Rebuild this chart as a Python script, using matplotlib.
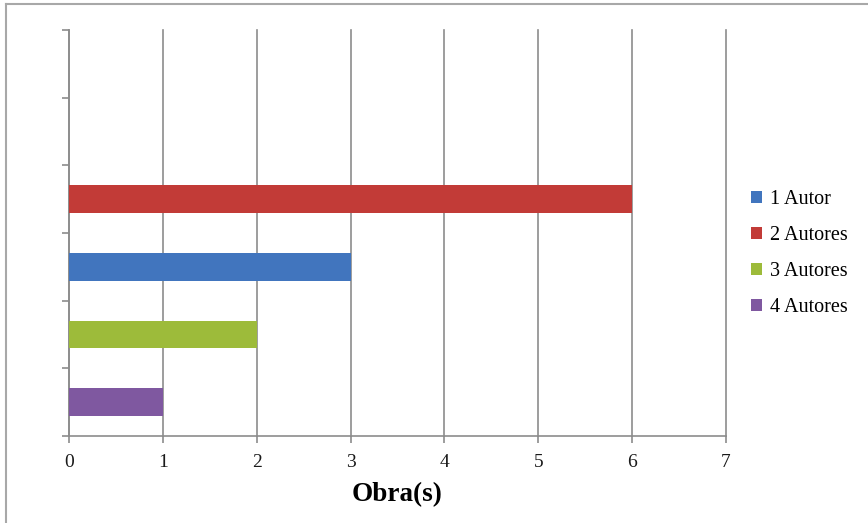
import matplotlib
matplotlib.use("Agg")
import matplotlib.pyplot as plt
from matplotlib.patches import Patch
from matplotlib.lines import Line2D

# Data
series = ["1 Autor", "2 Autores", "3 Autores", "4 Autores"]
values = [3, 6, 2, 1]
colors = ["#4175BE", "#C23B37", "#9DBB3A", "#7F58A0"]
# order of bars from bottom to top
stack_order = ["4 Autores", "3 Autores", "1 Autor", "2 Autores"]
n_slots = 6
x_ticks = [0, 1, 2, 3, 4, 5, 6, 7]
xlabel = "Obra(s)"

fig = plt.figure(figsize=(8.68, 5.23), dpi=100)
ax = fig.add_axes([69/868, 1-436/523, (726-69)/868, (436-30)/523])

grid_c = "#8C8C8C"
for s in stack_order:
    i = series.index(s)
    pos = stack_order.index(s) + 0.5
    ax.barh(pos, values[i], height=0.41, color=colors[i], zorder=3)

ax.set_xlim(0, 7)
ax.set_ylim(0, n_slots)
ax.set_xticks(x_ticks)
ax.set_xticklabels([str(t) for t in x_ticks], family="Liberation Serif", fontsize=14)
ax.set_yticks(range(n_slots + 1))
ax.set_yticklabels([])
ax.xaxis.grid(True, color=grid_c, linewidth=1.2, zorder=0)
for gl in ax.get_xgridlines():
    gl.set_clip_on(False)
ax.set_axisbelow(True)
for sp in ["top", "right"]:
    ax.spines[sp].set_visible(False)
for sp in ["left", "bottom"]:
    ax.spines[sp].set_color(grid_c)
    ax.spines[sp].set_linewidth(1.2)
ax.tick_params(axis="both", color=grid_c, width=1.2, length=5, direction="out")
ax.tick_params(axis="x", pad=8, labelcolor="#1a1a1a")
ax.set_xlabel(xlabel, family="Liberation Serif", fontweight="bold", fontsize=19.5, labelpad=8)

handles = [Patch(facecolor=colors[i], edgecolor="none") for i in range(len(series))]
leg = fig.legend(handles, series, loc="upper left", bbox_to_anchor=(751/868, 1-190/523),
                 frameon=False, prop={"family": "Liberation Serif", "size": 14.5},
                 handlelength=0.55, handleheight=0.55, handletextpad=0.4, labelspacing=0.85,
                 borderaxespad=0, borderpad=0)

# figure border (left and top)
fig.add_artist(Line2D([6/868, 6/868], [0, 1-4/523], transform=fig.transFigure, color="#A8A8A8", linewidth=1.5))
fig.add_artist(Line2D([6/868, 1], [1-4/523, 1-4/523], transform=fig.transFigure, color="#A8A8A8", linewidth=1.5))

fig.savefig("out.png", dpi=100)
